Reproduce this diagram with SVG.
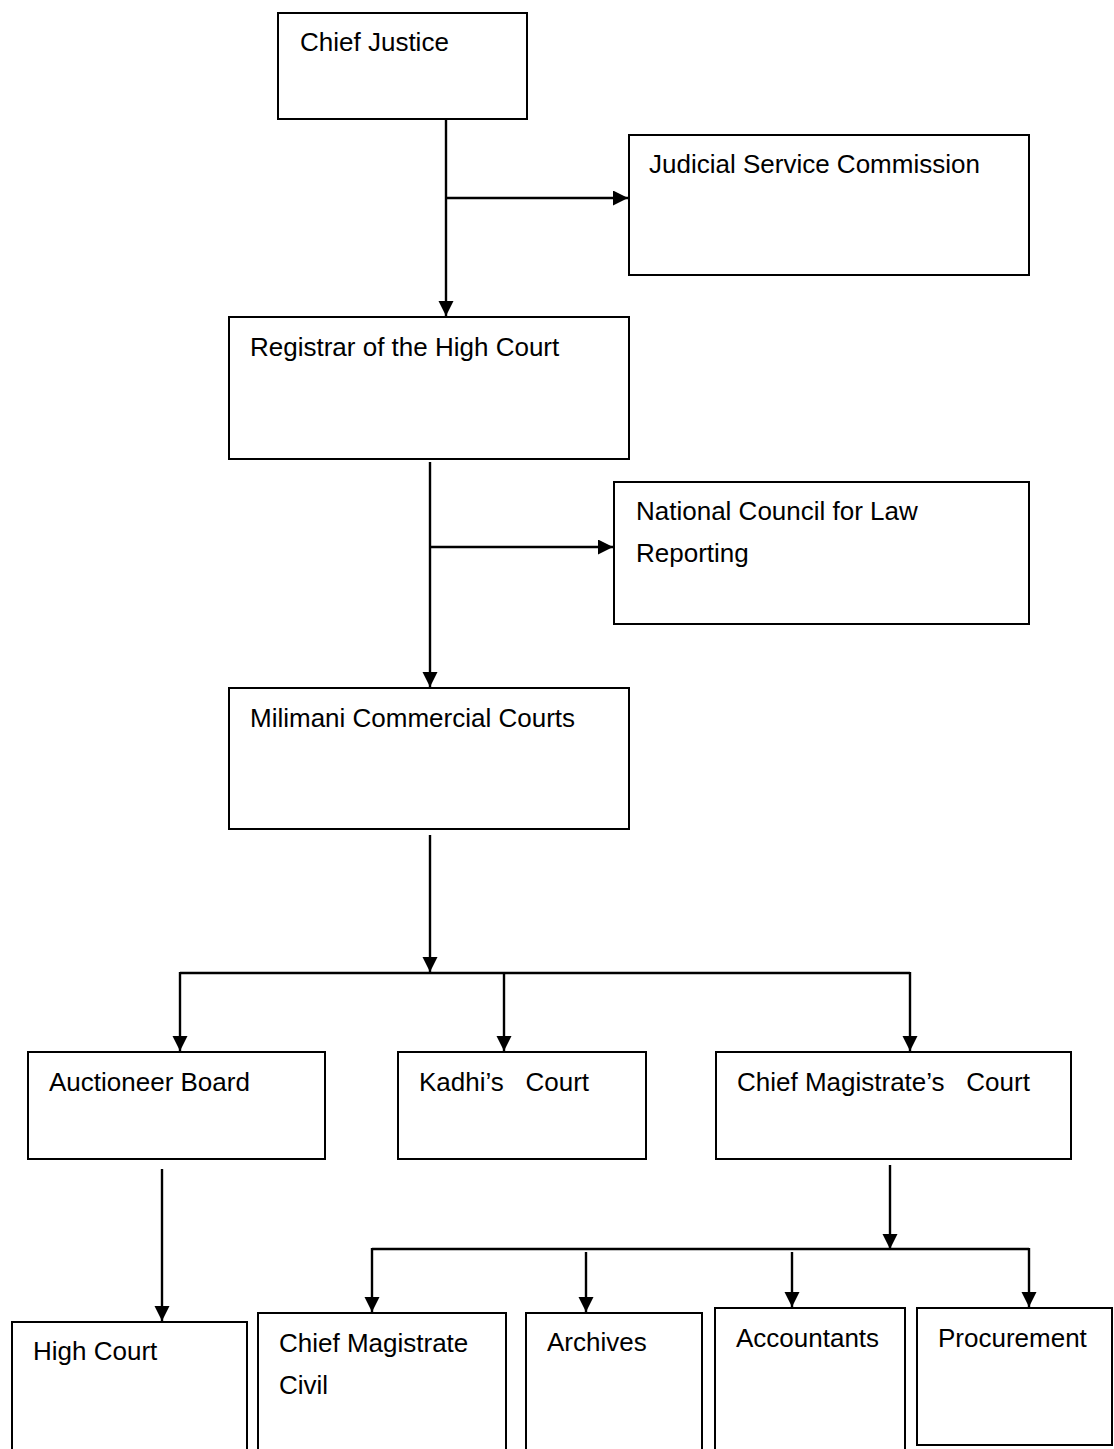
<svg xmlns="http://www.w3.org/2000/svg" width="1114" height="1449" viewBox="0 0 1114 1449">
<style>
.box{fill:#fff;stroke:#000;stroke-width:2}
.lbl{font-family:"Liberation Sans",Arial,sans-serif;font-size:26px;fill:#000;white-space:pre}
.con{fill:none;stroke:#000;stroke-width:2.4}
</style>
<defs>
<marker id="ah" markerUnits="userSpaceOnUse" markerWidth="16" markerHeight="16" refX="15" refY="7.5" orient="auto">
<path d="M0,0 L15,7.5 L0,15 z" fill="#000"/>
</marker>
</defs>
<rect width="1114" height="1449" fill="#fff"/>
<g id="connectors">
<path class="con" d="M446,119 V316" marker-end="url(#ah)"/>
<path class="con" d="M446,198 H628" marker-end="url(#ah)"/>
<path class="con" d="M430,462 V687" marker-end="url(#ah)"/>
<path class="con" d="M430,547 H613" marker-end="url(#ah)"/>
<path class="con" d="M430,835 V972" marker-end="url(#ah)"/>
<path class="con" d="M180,973 H910"/>
<path class="con" d="M180,972 V1051" marker-end="url(#ah)"/>
<path class="con" d="M504,972 V1051" marker-end="url(#ah)"/>
<path class="con" d="M910,972 V1051" marker-end="url(#ah)"/>
<path class="con" d="M162,1169 V1321" marker-end="url(#ah)"/>
<path class="con" d="M890,1165 V1249" marker-end="url(#ah)"/>
<path class="con" d="M372,1249 H1029"/>
<path class="con" d="M372,1248 V1312" marker-end="url(#ah)"/>
<path class="con" d="M586,1252 V1312" marker-end="url(#ah)"/>
<path class="con" d="M792,1252 V1307" marker-end="url(#ah)"/>
<path class="con" d="M1029,1248 V1307" marker-end="url(#ah)"/>
</g>
<g id="chief-justice"><rect class="box" x="278" y="13" width="249" height="106"/><text class="lbl" x="300" y="51">Chief Justice</text></g>
<g id="jsc"><rect class="box" x="629" y="135" width="400" height="140"/><text class="lbl" x="649" y="173">Judicial Service Commission</text></g>
<g id="registrar"><rect class="box" x="229" y="317" width="400" height="142"/><text class="lbl" x="250" y="356">Registrar of the High Court</text></g>
<g id="nclr"><rect class="box" x="614" y="482" width="415" height="142"/><text class="lbl" x="636" y="520">National Council for Law</text><text class="lbl" x="636" y="562">Reporting</text></g>
<g id="milimani"><rect class="box" x="229" y="688" width="400" height="141"/><text class="lbl" x="250" y="727">Milimani Commercial Courts</text></g>
<g id="auctioneer"><rect class="box" x="28" y="1052" width="297" height="107"/><text class="lbl" x="49" y="1091">Auctioneer Board</text></g>
<g id="kadhi"><rect class="box" x="398" y="1052" width="248" height="107"/><text class="lbl" x="419" y="1091">Kadhi’s   Court</text></g>
<g id="cmc"><rect class="box" x="716" y="1052" width="355" height="107"/><text class="lbl" x="737" y="1091">Chief Magistrate’s   Court</text></g>
<g id="high-court"><rect class="box" x="12" y="1322" width="235" height="150"/><text class="lbl" x="33" y="1360">High Court</text></g>
<g id="cm-civil"><rect class="box" x="258" y="1313" width="248" height="160"/><text class="lbl" x="279" y="1352">Chief Magistrate</text><text class="lbl" x="279" y="1394">Civil</text></g>
<g id="archives"><rect class="box" x="526" y="1313" width="176" height="160"/><text class="lbl" x="547" y="1351">Archives</text></g>
<g id="accountants"><rect class="box" x="715" y="1308" width="190" height="165"/><text class="lbl" x="736" y="1347">Accountants</text></g>
<g id="procurement"><rect class="box" x="917" y="1308" width="195" height="137"/><text class="lbl" x="938" y="1347">Procurement</text></g>
</svg>
